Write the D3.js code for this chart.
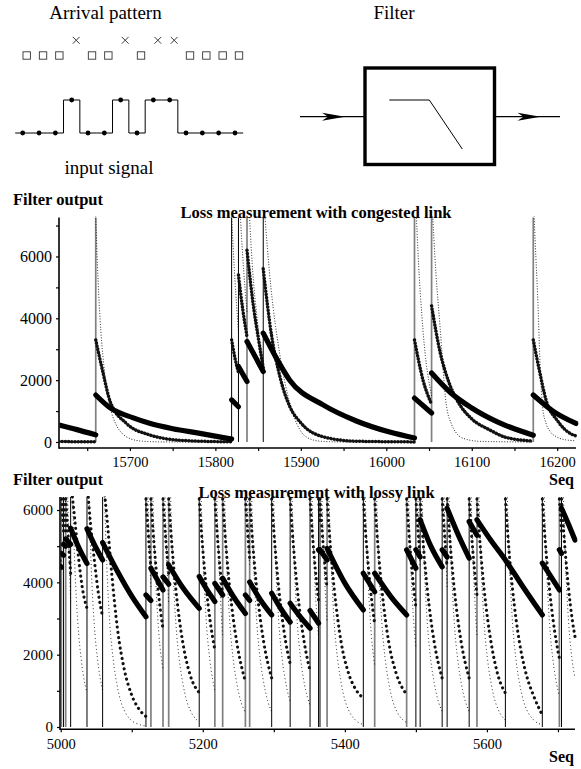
<!DOCTYPE html>
<html>
<head>
<meta charset="utf-8">
<script src="https://d3js.org/d3.v7.min.js"></script>
<style>
  body { margin: 0; background: #fff; }
  svg { display: block; }
  text { font-family: "Liberation Serif", "Times New Roman", serif; fill: #000; }
</style>
</head>
<body>
<div id="chart"></div>
<script>
// ---- arrival pattern (1 = packet arrived, 0 = lost)
var arrivals = [1, 1, 1, 0, 1, 1, 0, 1, 0, 0, 1, 1, 1, 1];

// ---- panel 1: congested link
var seqRange1 = [15617, 16222];
var valRange1 = [0, 7260];
var xTicks1 = [15650, 15700, 15750, 15800, 15850, 15900, 15950, 16000, 16050, 16100, 16150, 16200];
var xLabels1 = [15700, 15800, 15900, 16000, 16100, 16200];
var yTicks1 = [0, 1000, 2000, 3000, 4000, 5000, 6000, 7000];
var yLabels1 = [0, 2000, 4000, 6000];
var events1 = [15660, 15819, 15827, 15837, 15856, 16033, 16053, 16172];
var kinds1 = [0, 1, 1, 0, 1, 0, 0, 0]; // 1 = black marker, 0 = grey marker

// slow filter (big dots)
var slow1 = [
  [[15617, 550], [15638, 400], [15660, 230]],
  [[15660, 1520], [15677, 1100], [15704, 780], [15723, 605], [15750, 430], [15782, 280], [15819, 95]],
  [[15819, 1360], [15827, 1140]],
  [[15827, 2440], [15837, 1955]],
  [[15837, 3250], [15856, 2280]],
  [[15856, 3520], [15870, 2780], [15887, 2000], [15926, 1200], [15965, 680], [16004, 320], [16033, 130]],
  [[16033, 1420], [16053, 940]],
  [[16053, 2230], [16075, 1600], [16100, 1100], [16130, 650], [16172, 220]],
  [[16172, 1520], [16195, 1000], [16222, 600]]
];
// medium filter (small marks)
var medium1 = [
  [[15617, 15], [15660, 5]],
  [[15660, 3300], [15668, 2300], [15677, 1300], [15696, 600], [15723, 230], [15762, 50], [15819, 5]],
  [[15819, 3300], [15823, 2700], [15827, 2250]],
  [[15827, 5400], [15832, 4300], [15837, 3400]],
  [[15837, 6200], [15845, 4300], [15850, 3400], [15856, 2400]],
  [[15856, 5600], [15866, 3400], [15876, 2060], [15887, 1150], [15900, 620], [15926, 170], [15965, 25], [16033, 3]],
  [[16033, 3300], [16043, 2000], [16053, 1220]],
  [[16053, 4400], [16063, 2900], [16073, 1950], [16085, 1250], [16100, 750], [16121, 390], [16140, 150], [16172, 30]],
  [[16172, 3300], [16180, 2200], [16187, 1350], [16200, 700], [16217, 250], [16222, 200]]
];
// fast filter (tiny dots)
var fast1 = [
  [[15617, 0], [15660, 0]],
  [[15660, 7300], [15662, 5700], [15665, 4000], [15669, 2600], [15673, 1700], [15678, 1000], [15684, 550], [15692, 250], [15700, 110], [15715, 25], [15740, 3], [15819, 0]],
  [[15819, 7300], [15823, 5200], [15827, 3600]],
  [[15827, 8500], [15832, 6000], [15837, 4200]],
  [[15837, 9000], [15843, 5800], [15850, 3700], [15856, 2300]],
  [[15856, 8000], [15865, 5000], [15875, 2900], [15887, 1260], [15899, 390], [15910, 110], [15925, 20], [15950, 2], [16033, 0]],
  [[16033, 8900], [16037, 6200], [16043, 3600], [16053, 1500]],
  [[16053, 8000], [16058, 5500], [16063, 3700], [16070, 1250], [16076, 600], [16082, 290], [16090, 120], [16110, 20], [16172, 0]],
  [[16172, 8000], [16175, 6000], [16177, 4800], [16180, 2500], [16183, 1100], [16187, 600], [16192, 330], [16199, 170], [16210, 70], [16222, 40]]
];

// ---- panel 2: lossy link
var seqRange2 = [4999, 5724];
var valRange2 = [0, 6360];
var xTicks2 = [5000, 5100, 5200, 5300, 5400, 5500, 5600, 5700];
var xLabels2 = [5000, 5200, 5400, 5600];
var yTicks2 = [0, 1000, 2000, 3000, 4000, 5000, 6000];
var yLabels2 = [0, 2000, 4000, 6000];
var events2 = [5001, 5004, 5007, 5014, 5037, 5059, 5120, 5127, 5144, 5152, 5195, 5217, 5228, 5260, 5266, 5297, 5323,
  5351, 5363, 5365, 5375, 5426, 5442, 5487, 5500, 5506, 5537, 5544, 5575, 5586, 5626, 5678, 5702, 5705];
var kinds2 = [0, 1, 0, 1, 1, 1, 1, 0, 0, 0, 1, 0, 0, 0, 0, 1, 1,
  1, 1, 1, 0, 1, 0, 0, 1, 1, 1, 1, 1, 0, 1, 1, 0, 1];

var slow2 = [
  [[4999, 4450], [5001, 4420]],
  [[5001, 4800], [5004, 4750]],
  [[5004, 5050], [5007, 5000]],
  [[5007, 5200], [5014, 5050]],
  [[5014, 5500], [5025, 4980], [5037, 4520]],
  [[5037, 5480], [5048, 5020], [5059, 4620]],
  [[5059, 5100], [5080, 4300], [5100, 3620], [5120, 3050]],
  [[5120, 3650], [5127, 3500]],
  [[5127, 4390], [5136, 4070], [5144, 3790]],
  [[5144, 4150], [5152, 3950]],
  [[5152, 4480], [5173, 3820], [5195, 3280]],
  [[5195, 4160], [5206, 3790], [5217, 3470]],
  [[5217, 3970], [5228, 3650]],
  [[5228, 4110], [5244, 3580], [5260, 3140]],
  [[5260, 3650], [5266, 3500]],
  [[5266, 4010], [5281, 3520], [5297, 3100]],
  [[5297, 3700], [5310, 3270], [5323, 2900]],
  [[5323, 3420], [5337, 3050], [5351, 2730]],
  [[5351, 3220], [5363, 2870]],
  [[5363, 4900], [5365, 4850]],
  [[5365, 4900], [5375, 4620]],
  [[5375, 4940], [5400, 3980], [5426, 3240]],
  [[5426, 4250], [5442, 3740]],
  [[5442, 4250], [5465, 3600], [5487, 3100]],
  [[5487, 4900], [5500, 4390]],
  [[5500, 4900], [5506, 4700]],
  [[5506, 5730], [5521, 5000], [5537, 4430]],
  [[5537, 4900], [5544, 4700]],
  [[5544, 6050], [5560, 5300], [5575, 4670]],
  [[5575, 5680], [5586, 5300]],
  [[5586, 5730], [5606, 5150], [5626, 4620], [5650, 3900], [5678, 3100]],
  [[5678, 4530], [5702, 3790]],
  [[5702, 4900], [5705, 4800]],
  [[5705, 6050], [5715, 5600], [5724, 5170]]
];
var medium2 = [
  [[4999, 4600], [5001, 4350]],
  [[5001, 6300], [5004, 5420]],
  [[5004, 6300], [5007, 5420]],
  [[5007, 6300], [5010, 5420], [5014, 4250]],
  [[5014, 6800], [5020, 5700], [5025, 4700], [5030, 3900], [5037, 3280]],
  [[5037, 6800], [5042, 5600], [5048, 4500], [5053, 3700], [5059, 3050]],
  [[5059, 7000], [5065, 5800], [5072, 4200], [5080, 2700], [5090, 1550], [5100, 880], [5110, 500], [5120, 290]],
  [[5120, 6300], [5123, 5420], [5127, 4400]],
  [[5127, 6300], [5130, 5420], [5133, 4670], [5137, 3820], [5144, 2700]],
  [[5144, 6300], [5148, 5150], [5152, 4250]],
  [[5152, 6300], [5155, 5420], [5158, 4670], [5162, 3820], [5167, 2980], [5172, 2320], [5182, 1450], [5195, 950]],
  [[5195, 6300], [5198, 5420], [5201, 4670], [5205, 3820], [5210, 2980], [5217, 2130]],
  [[5217, 6300], [5220, 5420], [5223, 4670], [5228, 3650]],
  [[5228, 6300], [5231, 5420], [5234, 4670], [5238, 3820], [5243, 2980], [5248, 2320], [5260, 1250]],
  [[5260, 6300], [5263, 5420], [5266, 4670]],
  [[5266, 6300], [5269, 5420], [5272, 4670], [5276, 3820], [5281, 2980], [5286, 2320], [5297, 1350]],
  [[5297, 6300], [5300, 5420], [5303, 4670], [5307, 3820], [5312, 2980], [5317, 2320], [5323, 1750]],
  [[5323, 6300], [5326, 5420], [5329, 4670], [5333, 3820], [5338, 2980], [5343, 2320], [5351, 1550]],
  [[5351, 6300], [5354, 5420], [5357, 4670], [5363, 3500]],
  [[5363, 6300], [5365, 5700]],
  [[5365, 6300], [5368, 5420], [5371, 4670], [5375, 3820]],
  [[5375, 6300], [5378, 5420], [5381, 4670], [5385, 3820], [5390, 2980], [5395, 2320], [5405, 1500], [5415, 1050], [5426, 800]],
  [[5426, 6300], [5429, 5420], [5432, 4670], [5436, 3820], [5442, 2850]],
  [[5442, 6300], [5445, 5420], [5448, 4670], [5452, 3820], [5457, 2980], [5462, 2320], [5472, 1500], [5487, 900]],
  [[5487, 6300], [5490, 5420], [5493, 4670], [5500, 3300]],
  [[5500, 6300], [5503, 5420], [5506, 4670]],
  [[5506, 6300], [5509, 5420], [5512, 4670], [5516, 3820], [5521, 2980], [5526, 2320], [5537, 1350]],
  [[5537, 6300], [5540, 5420], [5544, 4400]],
  [[5544, 6300], [5547, 5420], [5550, 4670], [5554, 3820], [5559, 2980], [5564, 2320], [5575, 1350]],
  [[5575, 6300], [5578, 5420], [5581, 4670], [5586, 3650]],
  [[5586, 6300], [5589, 5420], [5592, 4670], [5596, 3820], [5601, 2980], [5606, 2320], [5616, 1400], [5626, 940]],
  [[5626, 6300], [5629, 5420], [5632, 4670], [5636, 3820], [5641, 2980], [5646, 2320], [5656, 1410], [5666, 850], [5678, 330]],
  [[5678, 6300], [5681, 5420], [5684, 4670], [5688, 3820], [5693, 2980], [5698, 2320], [5702, 1900]],
  [[5702, 6300], [5705, 5420]],
  [[5705, 6300], [5708, 5420], [5711, 4670], [5715, 3820], [5720, 2980], [5724, 2500]]
];
var fast2 = [
  [[5001, 9000], [5004, 6200]],
  [[5004, 9000], [5007, 6200]],
  [[5007, 9000], [5010, 6200], [5014, 3400]],
  [[5014, 9000], [5017, 6200], [5020, 4400], [5024, 2900], [5029, 1850], [5034, 1200], [5037, 950]],
  [[5037, 9000], [5040, 6200], [5043, 4400], [5047, 2900], [5052, 1850], [5057, 1200], [5059, 1000]],
  [[5059, 9000], [5062, 6200], [5065, 4400], [5069, 2900], [5074, 1850], [5079, 1200], [5084, 750], [5089, 480], [5099, 190], [5109, 80], [5120, 25]],
  [[5120, 9000], [5123, 6200], [5127, 3800]],
  [[5127, 9000], [5130, 6200], [5133, 4400], [5137, 2900], [5144, 1600]],
  [[5144, 9000], [5147, 6200], [5152, 3400]],
  [[5152, 9000], [5155, 6200], [5158, 4400], [5162, 2900], [5167, 1850], [5172, 1200], [5177, 750], [5182, 480], [5192, 190], [5195, 150]],
  [[5195, 9000], [5198, 6200], [5201, 4400], [5205, 2900], [5210, 1850], [5217, 1000]],
  [[5217, 9000], [5220, 6200], [5223, 4400], [5228, 2500]],
  [[5228, 9000], [5231, 6200], [5234, 4400], [5238, 2900], [5243, 1850], [5248, 1200], [5253, 750], [5260, 400]],
  [[5260, 9000], [5263, 6200], [5266, 4400]],
  [[5266, 9000], [5269, 6200], [5272, 4400], [5276, 2900], [5281, 1850], [5286, 1200], [5291, 750], [5297, 420]],
  [[5297, 9000], [5300, 6200], [5303, 4400], [5307, 2900], [5312, 1850], [5317, 1200], [5323, 700]],
  [[5323, 9000], [5326, 6200], [5329, 4400], [5333, 2900], [5338, 1850], [5343, 1200], [5351, 600]],
  [[5351, 9000], [5354, 6200], [5357, 4400], [5363, 2500]],
  [[5363, 9000], [5365, 7000]],
  [[5365, 9000], [5368, 6200], [5371, 4400], [5375, 2900]],
  [[5375, 9000], [5378, 6200], [5381, 4400], [5385, 2900], [5390, 1850], [5395, 1200], [5400, 750], [5405, 480], [5415, 190], [5426, 70]],
  [[5426, 9000], [5429, 6200], [5432, 4400], [5436, 2900], [5442, 1700]],
  [[5442, 9000], [5445, 6200], [5448, 4400], [5452, 2900], [5457, 1850], [5462, 1200], [5467, 750], [5472, 480], [5482, 190], [5487, 120]],
  [[5487, 9000], [5490, 6200], [5493, 4400], [5497, 2900], [5500, 2200]],
  [[5500, 9000], [5503, 6200], [5506, 4400]],
  [[5506, 9000], [5509, 6200], [5512, 4400], [5516, 2900], [5521, 1850], [5526, 1200], [5531, 750], [5537, 430]],
  [[5537, 9000], [5540, 6200], [5544, 3800]],
  [[5544, 9000], [5547, 6200], [5550, 4400], [5554, 2900], [5559, 1850], [5564, 1200], [5569, 750], [5575, 430]],
  [[5575, 9000], [5578, 6200], [5581, 4400], [5586, 2500]],
  [[5586, 9000], [5589, 6200], [5592, 4400], [5596, 2900], [5601, 1850], [5606, 1200], [5611, 750], [5616, 480], [5626, 190]],
  [[5626, 9000], [5629, 6200], [5632, 4400], [5636, 2900], [5641, 1850], [5646, 1200], [5651, 750], [5656, 480], [5666, 190], [5678, 60]],
  [[5678, 9000], [5681, 6200], [5684, 4400], [5688, 2900], [5693, 1850], [5698, 1200], [5702, 850]],
  [[5702, 9000], [5705, 6200]],
  [[5705, 9000], [5708, 6200], [5711, 4400], [5715, 2900], [5720, 1850], [5724, 1350]]
];

var width = 581, height = 769;
var svg = d3.select("#chart").append("svg").attr("width", width).attr("height", height);
svg.append("rect").attr("width", width).attr("height", height).attr("fill", "#fff");

// ================= top diagram =================
var slotX = d3.scaleLinear().domain([0, arrivals.length - 1]).range([22.7, 235]);
var sigY = d3.scaleLinear().domain([0, 1]).range([133, 100]);

svg.append("text").attr("x", 105.5).attr("y", 18.5).attr("text-anchor", "middle")
  .style("font-size", "19px").text("Arrival pattern");

// received packets as squares, lost as crosses
svg.selectAll("rect.pkt").data(arrivals.map((a, i) => [i, a]).filter(d => d[1] == 1))
  .join("rect").attr("class", "pkt")
  .attr("x", d => slotX(d[0]) + 4 - 3.7).attr("y", 55.5 - 3.7)
  .attr("width", 7.4).attr("height", 7.4)
  .attr("fill", "none").attr("stroke", "#333").attr("stroke-width", 0.9);

var lost = arrivals.map((a, i) => [i, a]).filter(d => d[1] == 0);
svg.selectAll("path.lost").data(lost).join("path").attr("class", "lost")
  .attr("d", function (d) {
    var cx = slotX(d[0]) + 4.5, cy = 40.3, r = 3.4;
    return "M" + (cx - r) + "," + (cy - r) + "L" + (cx + r) + "," + (cy + r) +
      "M" + (cx - r) + "," + (cy + r) + "L" + (cx + r) + "," + (cy - r);
  })
  .attr("stroke", "#222").attr("stroke-width", 0.9);

// input signal: high when packet was lost
var sigPts = arrivals.map((a, i) => [i, 1 - a]);
sigPts.unshift([-0.46, 1 - arrivals[0]]);
sigPts.push([arrivals.length - 0.5, 1 - arrivals[arrivals.length - 1]]);
svg.append("path").datum(sigPts)
  .attr("d", d3.line().x(d => slotX(d[0])).y(d => sigY(d[1])).curve(d3.curveStep))
  .attr("fill", "none").attr("stroke", "#000").attr("stroke-width", 1);
svg.selectAll("circle.sig").data(arrivals.map((a, i) => [i, 1 - a]))
  .join("circle").attr("class", "sig")
  .attr("cx", d => slotX(d[0])).attr("cy", d => sigY(d[1])).attr("r", 2.4).attr("fill", "#000");

svg.append("text").attr("x", 109).attr("y", 173.5).attr("text-anchor", "middle")
  .style("font-size", "19px").text("input signal");

// filter block
svg.append("text").attr("x", 394).attr("y", 18.5).attr("text-anchor", "middle")
  .style("font-size", "19px").text("Filter");
var box = { x0: 365, x1: 494.5, y0: 68, y1: 164.5, mid: 116.7 };
svg.append("rect").attr("x", box.x0).attr("y", box.y0)
  .attr("width", box.x1 - box.x0).attr("height", box.y1 - box.y0)
  .attr("fill", "none").attr("stroke", "#000").attr("stroke-width", 3.4);
svg.append("path").attr("d", "M389.3,100L429.3,100L462.3,149")
  .attr("fill", "none").attr("stroke", "#000").attr("stroke-width", 1);

function arrow(xa, xb, tip) {
  svg.append("line").attr("x1", xa).attr("x2", xb).attr("y1", box.mid).attr("y2", box.mid)
    .attr("stroke", "#000").attr("stroke-width", 1.3);
  svg.append("path")
    .attr("d", "M" + tip + "," + box.mid + "L" + (tip - 23) + "," + (box.mid - 4) +
      "L" + (tip - 17) + "," + box.mid + "L" + (tip - 23) + "," + (box.mid + 4) + "Z")
    .attr("fill", "#000");
}
arrow(300, box.x0, 345);
arrow(box.x1, 560, 540.5);

// ================= signal panels =================
function drawPanel(p) {
  var x = d3.scaleLinear().domain(p.seqRange).range([p.left, p.right]);
  var y = d3.scaleLinear().domain(p.valRange).range([p.zeroY, p.top]);
  var g = svg.append("g");

  var clipId = "clip" + p.id;
  svg.append("clipPath").attr("id", clipId).append("rect")
    .attr("x", p.left + 0.5).attr("y", p.top - 1)
    .attr("width", p.right - p.left + 2).attr("height", p.axisY - p.top);
  var plot = g.append("g").attr("clip-path", "url(#" + clipId + ")");

  // loss markers
  plot.selectAll("line.ev").data(p.events).join("line").attr("class", "ev")
    .attr("x1", d => x(d)).attr("x2", d => x(d))
    .attr("y1", y(0)).attr("y2", p.top)
    .attr("stroke", (d, i) => (p.kinds[i] ? "#000" : "#808080"))
    .attr("stroke-width", (d, i) => (p.kinds[i] ? 1 : 1.7));

  var line = d3.line().x(d => x(d[0])).y(d => y(d[1])).curve(d3.curveMonotoneX);

  plot.selectAll("path.fast").data(p.fast).join("path").attr("class", "fast")
    .attr("d", line).attr("fill", "none").attr("stroke", "#000")
    .attr("stroke-width", 1).attr("stroke-linecap", "round")
    .attr("stroke-dasharray", "0.1," + p.fastGap);

  plot.selectAll("path.med").data(p.medium).join("path").attr("class", "med")
    .attr("d", line).attr("fill", "none").attr("stroke", "#111")
    .attr("stroke-width", p.medWidth).attr("stroke-linecap", "round")
    .attr("stroke-dasharray", "0.1," + p.medGap);

  plot.selectAll("path.slow").data(p.slow).join("path").attr("class", "slow")
    .attr("d", line).attr("fill", "none").attr("stroke", "#000")
    .attr("stroke-width", 5.2).attr("stroke-linecap", "round");

  // axes
  var xAxis = d3.axisBottom(x).tickValues(p.xTicks).tickSize(3).tickSizeOuter(0).tickPadding(6)
    .tickFormat(d => (p.xLabels.indexOf(d) >= 0 ? d : ""));
  var gx = g.append("g").attr("transform", "translate(0," + p.axisY + ")").call(xAxis);
  gx.select(".domain").remove();
  gx.selectAll("text").attr("font-family", null).style("font-size", p.xFont + "px");
  gx.selectAll("line").attr("stroke-width", 1.2);

  var yAxis = d3.axisLeft(y).tickValues(p.yTicks).tickSize(3).tickSizeOuter(0).tickPadding(4)
    .tickFormat(d => (p.yLabels.indexOf(d) >= 0 ? d : ""));
  var gy = g.append("g").attr("transform", "translate(" + p.left + ",0)").call(yAxis);
  gy.select(".domain").remove();
  gy.selectAll("text").attr("font-family", null).style("font-size", p.yFont + "px");
  gy.selectAll("line").attr("stroke-width", 1.2);

  g.append("line").attr("x1", p.left).attr("x2", p.right).attr("y1", p.axisY).attr("y2", p.axisY)
    .attr("stroke", "#000").attr("stroke-width", 1.6);
  g.append("line").attr("x1", p.left).attr("x2", p.left).attr("y1", p.axisY + 0.8).attr("y2", p.top)
    .attr("stroke", "#000").attr("stroke-width", 1.6);

  // labels
  g.append("text").attr("x", 13).attr("y", p.yLabelY).style("font-size", "16.5px")
    .style("font-weight", "bold").text("Filter output");
  g.append("text").attr("x", p.titleX).attr("y", p.titleY).attr("text-anchor", "middle")
    .style("font-size", "16.5px").style("font-weight", "bold").text(p.title);
  g.append("text").attr("x", 574).attr("y", p.seqY).attr("text-anchor", "end")
    .style("font-size", "16px").style("font-weight", "bold").text("Seq");
}

drawPanel({
  id: 1, seqRange: seqRange1, valRange: valRange1,
  left: 59, right: 576, zeroY: 442, top: 217.5, axisY: 448,
  xTicks: xTicks1, xLabels: xLabels1, yTicks: yTicks1, yLabels: yLabels1,
  xFont: 14.5, yFont: 16, medGap: 3.1, medWidth: 3.5, fastGap: 2.6,
  events: events1, kinds: kinds1, slow: slow1, medium: medium1, fast: fast1,
  yLabelY: 205, title: "Loss measurement with congested link", titleX: 316, titleY: 217.5, seqY: 485
});

drawPanel({
  id: 2, seqRange: seqRange2, valRange: valRange2,
  left: 60, right: 575, zeroY: 727, top: 497, axisY: 729.3,
  xTicks: xTicks2, xLabels: xLabels2, yTicks: yTicks2, yLabels: yLabels2,
  xFont: 14.5, yFont: 15, medGap: 5.2, medWidth: 3.1, fastGap: 3.6,
  events: events2, kinds: kinds2, slow: slow2, medium: medium2, fast: fast2,
  yLabelY: 485, title: "Loss measurement with lossy link", titleX: 316.5, titleY: 497.5, seqY: 762
});
</script>
</body>
</html>
